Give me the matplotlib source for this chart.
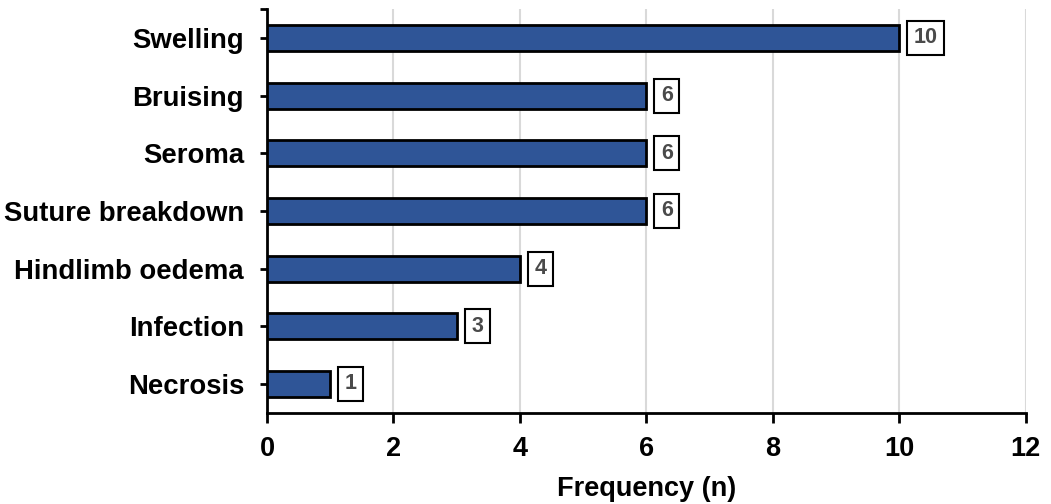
import matplotlib
matplotlib.use("Agg")
import matplotlib.pyplot as plt
from matplotlib.ticker import FixedLocator

plt.rcParams['font.family'] = ['Liberation Sans', 'DejaVu Sans']

categories = ["Swelling", "Bruising", "Seroma", "Suture breakdown",
              "Hindlimb oedema", "Infection", "Necrosis"]
counts = [10, 6, 6, 6, 4, 3, 1]
x_ticks = [0, 2, 4, 6, 8, 10, 12]

fig = plt.figure(figsize=(10.51, 5.04), dpi=100)
ax = fig.add_axes([0.254, 0.181, 0.722, 0.801])

pos = list(range(len(categories)))
ax.barh(pos, counts, height=0.45, color="#2F5597", edgecolor="black",
        linewidth=2, zorder=3)

for p, v in zip(pos, counts):
    ax.annotate(str(v), xy=(v, p), xytext=(10.5, 0), textcoords="offset points",
                ha="left", va="center", fontsize=15.5, fontweight="bold",
                color="#4a4a4a", zorder=4,
                bbox=dict(boxstyle="square,pad=0.3", fc="white",
                          ec="black", lw=1.5))

ax.set_xlim(0, 12)
ax.set_ylim(len(categories) - 0.5, -0.5)
ax.set_xticks(x_ticks)
ax.set_xticklabels([str(t) for t in x_ticks])
ax.set_yticks(pos)
ax.set_yticklabels(categories)
ax.yaxis.set_minor_locator(FixedLocator([-0.5]))

ax.grid(axis="x", color="#d9d9d9", linewidth=1.5, zorder=0)
ax.set_axisbelow(True)

for s in ("top", "right"):
    ax.spines[s].set_visible(False)
for s in ("left", "bottom"):
    ax.spines[s].set_linewidth(2)
    ax.spines[s].set_color("black")

ax.tick_params(axis="x", direction="out", length=7, width=2, pad=10,
               labelsize=19.5)
ax.tick_params(axis="y", which="both", direction="out", length=5, width=2,
               pad=11.5, labelsize=19.8)
for lab in ax.get_xticklabels() + ax.get_yticklabels():
    lab.set_fontweight("bold")

ax.set_xlabel("Frequency (n)", fontsize=19.5, fontweight="bold", labelpad=10)

fig.savefig("out.png", dpi=100)
